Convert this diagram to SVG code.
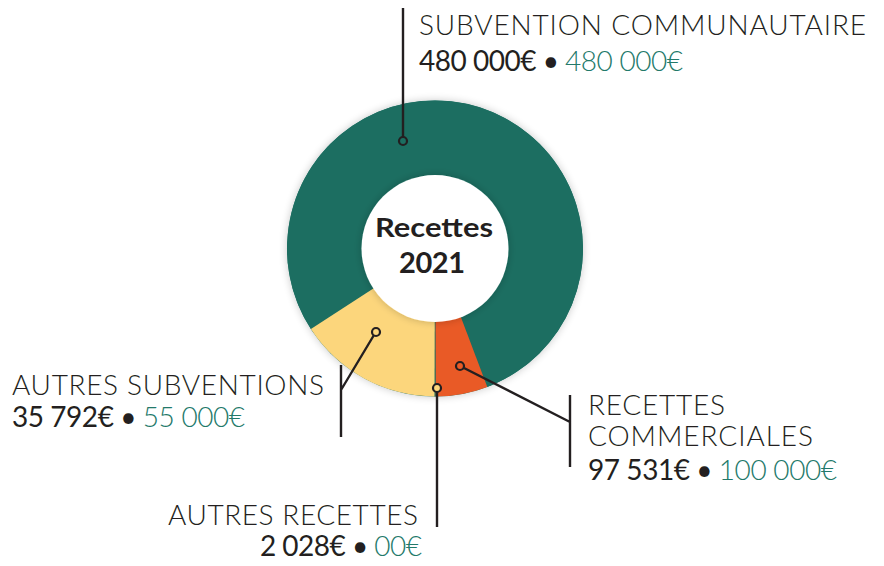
<svg xmlns="http://www.w3.org/2000/svg" width="884" height="566" viewBox="0 0 884 566">
<style>
.lbl{font-family:Lato,"Liberation Sans",sans-serif;font-weight:300;font-size:28px;fill:#231f20}
.num{font-family:Lato,"Liberation Sans",sans-serif;font-weight:400;font-size:28px;fill:#231f20}
.grn{fill:#23796a;font-weight:300}
.ctr{font-family:Lato,"Liberation Sans",sans-serif;font-weight:700;font-size:27px;fill:#231f20;text-anchor:middle}
.ld{fill:none;stroke:#231f20;stroke-width:2.4;stroke-linecap:butt}
.dot{stroke:#231f20;stroke-width:2.2}
</style>
<defs>
<filter id="sh" x="-20%" y="-20%" width="140%" height="140%">
<feGaussianBlur in="SourceAlpha" stdDeviation="4"/>
<feComponentTransfer><feFuncA type="linear" slope="0.22"/></feComponentTransfer>
<feMerge><feMergeNode/><feMergeNode in="SourceGraphic"/></feMerge>
</filter>
</defs>
<rect width="884" height="566" fill="#ffffff"/>
<g id="donut">
<circle cx="435" cy="248.5" r="148" fill="#1c6e61" filter="url(#sh)"/>
<path d="M435,248.5 L310.9,329.1 A148,148 0 1 1 487.3,386.9 Z" fill="#1c6e61"/>
<path d="M435,248.5 L487.3,386.9 A148,148 0 0 1 435.5,396.5 Z" fill="#e95a26"/>
<path d="M435,248.5 L435.6,396.5 A148,148 0 0 1 434.4,396.5 Z" fill="#1c6e61"/>
<path d="M435,248.5 L434.5,396.5 A148,148 0 0 1 310.9,329.1 Z" fill="#fcd67c"/>
<circle cx="435" cy="248.5" r="73.5" fill="#ffffff" filter="url(#sh)"/>
</g>
<g id="center-label">
<text class="ctr" x="434" y="237" textLength="118" lengthAdjust="spacingAndGlyphs">Recettes</text>
<text class="ctr" x="432" y="273" style="font-size:29px" textLength="66">2021</text>
</g>
<g id="connectors">
<path class="ld" d="M403,8 V137"/>
<path class="ld" d="M341,365 V437 M341,390 L374,335"/>
<path class="ld" d="M437,392 V527"/>
<path class="ld" d="M570,395 V467 M570,422 L464,368"/>
</g>
<g id="node-subvention-communautaire">
<circle class="dot" cx="403" cy="141" r="4" fill="#1c6e61"/>
<text class="lbl" x="419" y="35" textLength="447">SUBVENTION COMMUNAUTAIRE</text>
<text class="num" x="419" y="71" textLength="264">480 000€ • <tspan class="grn">480 000€</tspan></text>
</g>
<g id="node-autres-subventions">
<circle class="dot" cx="376" cy="332" r="4" fill="#fcd67c"/>
<text class="lbl" x="12" y="395" textLength="312">AUTRES SUBVENTIONS</text>
<text class="num" x="12" y="427" textLength="233">35 792€ • <tspan class="grn">55 000€</tspan></text>
</g>
<g id="node-autres-recettes">
<circle class="dot" cx="437" cy="388" r="4" fill="#fcd67c"/>
<text class="lbl" x="418" y="525" text-anchor="end" textLength="250">AUTRES RECETTES</text>
<text class="num" x="422" y="556" text-anchor="end" textLength="162">2 028€ • <tspan class="grn">00€</tspan></text>
</g>
<g id="node-recettes-commerciales">
<circle class="dot" cx="460" cy="366" r="4" fill="#e95a26"/>
<text class="lbl" x="588" y="415" textLength="137">RECETTES</text>
<text class="lbl" x="588" y="446" textLength="225">COMMERCIALES</text>
<text class="num" x="588" y="480" textLength="249">97 531€ • <tspan class="grn">100 000€</tspan></text>
</g>
</svg>
